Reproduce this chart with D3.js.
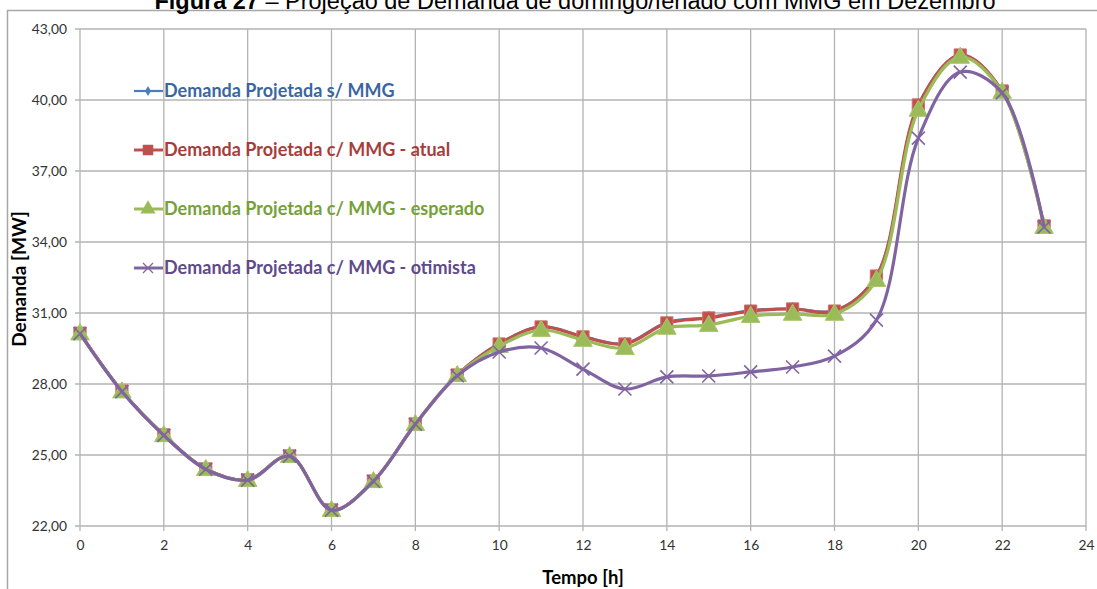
<!DOCTYPE html>
<html><head><meta charset="utf-8">
<script src="https://cdn.jsdelivr.net/npm/d3@7"></script>
<style>body{margin:0;background:#fff}svg{display:block}</style>
</head><body>
<svg id="c" width="1097" height="589"></svg>
<script>
const hours = [0,1,2,3,4,5,6,7,8,9,10,11,12,13,14,15,16,17,18,19,20,21,22,23];
const semMMG   = [30.17,27.72,25.87,24.43,23.97,24.98,22.70,23.92,26.33,28.40,29.72,30.44,30.02,29.72,30.62,30.82,31.11,31.20,31.11,32.59,39.81,41.92,40.40,34.70];
const atual    = [30.15,27.70,25.85,24.41,23.95,24.96,22.68,23.90,26.31,28.38,29.69,30.41,29.99,29.69,30.58,30.79,31.08,31.17,31.08,32.56,39.79,41.90,40.38,34.68];
const esperado = [30.13,27.68,25.83,24.40,23.94,24.95,22.67,23.89,26.30,28.37,29.60,30.28,29.86,29.52,30.37,30.49,30.87,30.96,30.96,32.39,39.58,41.82,40.34,34.63];
const otimista = [30.13,27.68,25.83,24.40,23.94,24.95,22.67,23.89,26.30,28.35,29.35,29.52,28.63,27.79,28.30,28.34,28.51,28.72,29.18,30.70,38.39,41.18,40.30,34.63];
const seriesNames = ["Demanda Projetada s/ MMG","Demanda Projetada c/ MMG - atual","Demanda Projetada c/ MMG - esperado","Demanda Projetada c/ MMG - otimista"];
const xTicks = [0,2,4,6,8,10,12,14,16,18,20,22,24];
const yTicks = [22,25,28,31,34,37,40,43];
const titleBold = "Figura 27";
const titleRest = " – Projeção de Demanda de domingo/feriado com MMG em Dezembro";
const xTitle = "Tempo [h]";
const yTitle = "Demanda [MW]";

const svg = d3.select("#c");
const m = {l:80, r:1086, t:29, b:526};
const x = d3.scaleLinear().domain([0,24]).range([m.l,m.r]);
const y = d3.scaleLinear().domain([22,43]).range([m.b,m.t]);

// outer frame (top + left)
svg.append("line").attr("x1",7).attr("x2",1097).attr("y1",10.5).attr("y2",10.5).attr("stroke","#a6a6a6").attr("stroke-width",1.5);
svg.append("line").attr("x1",7.5).attr("x2",7.5).attr("y1",10).attr("y2",589).attr("stroke","#a6a6a6").attr("stroke-width",1.5);

// title (partly cut by the top edge, as in the reference)
const tt = svg.append("text").attr("x",575).attr("y",9).attr("text-anchor","middle")
  .attr("font-family","Liberation Sans, Arial, sans-serif").attr("font-size",23.5).attr("fill","#000");
tt.append("tspan").attr("font-weight","bold").text(titleBold);
tt.append("tspan").text(titleRest);

// grid
const grid = svg.append("g");
grid.selectAll(".gy").data(yTicks).join("line")
  .attr("x1",m.l-5).attr("x2",m.r).attr("y1",d=>y(d)).attr("y2",d=>y(d))
  .attr("stroke","#b3b3b3").attr("stroke-width",1.3);
grid.selectAll(".gx").data(xTicks).join("line")
  .attr("y1",m.t).attr("y2",m.b+5).attr("x1",d=>x(d)).attr("x2",d=>x(d))
  .attr("stroke","#b3b3b3").attr("stroke-width",1.3);

// axes via d3 axis for labels
const yAxis = d3.axisLeft(y).tickValues(yTicks).tickSize(0).tickPadding(13)
  .tickFormat(d=>d3.format(".2f")(d).replace(".",","));
const gy = svg.append("g").attr("transform",`translate(${m.l},0)`).call(yAxis);
gy.select(".domain").remove();
gy.selectAll("text").attr("font-family","Lato, Calibri, sans-serif").attr("font-size",13.8).attr("fill","#333");

const xAxis = d3.axisBottom(x).tickValues(xTicks).tickSize(0).tickPadding(14).tickFormat(d3.format("d"));
const gx = svg.append("g").attr("transform",`translate(0,${m.b})`).call(xAxis);
gx.select(".domain").remove();
gx.selectAll("text").attr("font-family","Lato, Calibri, sans-serif").attr("font-size",13.8).attr("fill","#333");

// axis titles
svg.append("text").attr("x",583).attr("y",584).attr("text-anchor","middle")
  .attr("font-family","Lato, Calibri, sans-serif").attr("font-weight","bold").attr("font-size",18.5).attr("fill","#000").text(xTitle);
svg.append("text").attr("transform","translate(26,279) rotate(-90)").attr("text-anchor","middle")
  .attr("font-family","Lato, Calibri, sans-serif").attr("font-weight","bold").attr("font-size",19).attr("fill","#000").text(yTitle);

// series
const colors = ["#4a7ebb","#c0504d","#9bbb59","#8064a2"];
const textColors = ["#3a66a0","#a63d3a","#76a03a","#604a8a"];
const data = [semMMG, atual, esperado, otimista];
const line = d3.line().x((d,i)=>x(hours[i])).y(d=>y(d)).curve(d3.curveCatmullRom.alpha(0.5));

const markerPath = [
  d3.symbol().type(d3.symbolDiamond).size(40)(),
  d3.symbol().type(d3.symbolSquare).size(150)(),
  d3.symbol().type(d3.symbolTriangle).size(150)(),
  null
];
function drawMarker(g, k, cx, cy){
  if(k===3){
    const s=6.5;
    g.append("path").attr("d",`M${cx-s},${cy-s}L${cx+s},${cy+s}M${cx-s},${cy+s}L${cx+s},${cy-s}`)
      .attr("stroke",colors[3]).attr("stroke-width",1.6).attr("fill","none");
  } else {
    g.append("path").attr("d",markerPath[k]).attr("transform",`translate(${cx},${cy + (k===2?1:0)})`)
      .attr("fill",colors[k]).attr("stroke", k===1?"#d0706c":(k===2?"#a8c66c":colors[k])).attr("stroke-width",1);
  }
}

data.forEach((vals,k)=>{
  const g = svg.append("g");
  g.append("path").datum(vals).attr("d",line).attr("fill","none")
    .attr("stroke",colors[k]).attr("stroke-width",k===0?2.2:3.2).attr("stroke-linejoin","round");
  vals.forEach((v,i)=>drawMarker(g,k,x(hours[i]),y(v)));
});

// legend
const legY = [91,150,209,268];
seriesNames.forEach((name,k)=>{
  const g = svg.append("g");
  g.append("line").attr("x1",134).attr("x2",163).attr("y1",legY[k]).attr("y2",legY[k])
    .attr("stroke",colors[k]).attr("stroke-width",k===0?2.2:3);
  if(k===3){
    const s=5, cx=148, cy=legY[k];
    g.append("path").attr("d",`M${cx-s},${cy-s}L${cx+s},${cy+s}M${cx-s},${cy+s}L${cx+s},${cy-s}`)
      .attr("stroke",colors[3]).attr("stroke-width",1.3).attr("fill","none");
  } else {
    const sz=[30,110,100][k];
    const p = [d3.symbolDiamond,d3.symbolSquare,d3.symbolTriangle][k];
    g.append("path").attr("d",d3.symbol().type(p).size(sz)()).attr("transform",`translate(148,${legY[k]})`).attr("fill",colors[k]);
  }
  g.append("text").attr("x",164).attr("y",legY[k]+6).attr("font-family","Lato, Calibri, sans-serif")
    .attr("font-weight","bold").attr("font-size",18).attr("fill",textColors[k]).text(name);
});
</script>
</body></html>
